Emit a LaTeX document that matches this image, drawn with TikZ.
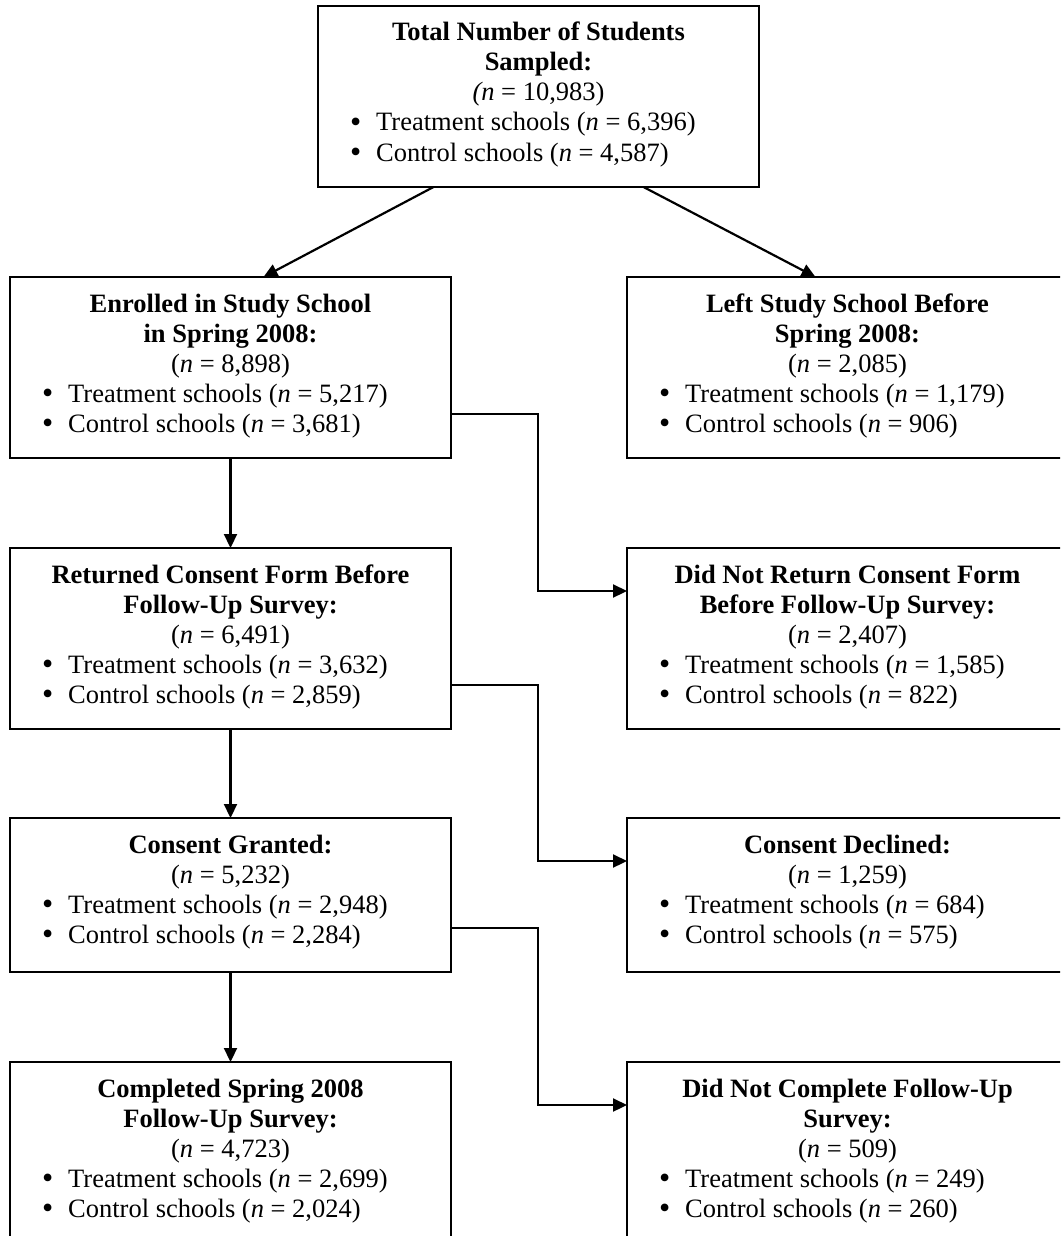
\documentclass[tikz,border=0pt]{standalone}
\usepackage{fontspec}
\setmainfont{Liberation Serif}
\usetikzlibrary{arrows.meta,calc}
\tikzset{
  fbox/.style={draw, line width=2.2pt, minimum width=441pt, minimum height=181pt, anchor=north west, inner sep=0pt, outer sep=0pt},
  txt/.style={anchor=base, inner sep=0pt, font=\fontsize{26.5}{30}\selectfont},
  ttl/.style={txt, font=\fontsize{26.5}{30}\selectfont\bfseries},
  lft/.style={txt, anchor=base west},
  arr/.style={line width=2.2pt, -{Triangle[length=14pt,width=13pt]}},
}
\newcommand\bul{\raisebox{-1.5pt}{\fontsize{32}{30}\selectfont •}}
\newcommand\fbtwo[9]{% name, left, top, title1, title2, total, treat, ctrl, nprefix
  \node[fbox] (#1) at (#2,#3) {};
  \node[ttl] (#1-a) at ($(#1.north)+(0,35)$) {#4};
  \node[ttl] (#1-b) at ($(#1.north)+(0,65)$) {#5};
  \node[txt] (#1-c) at ($(#1.north)+(0,95)$) {#9 = #6)};
  \node[lft] (#1-d0) at ($(#1.north west)+(32,125)$) {\bul};
  \node[lft] (#1-d) at ($(#1.north west)+(58,125)$) {Treatment schools (\textit{n} = #7)};
  \node[lft] (#1-e0) at ($(#1.north west)+(32,155)$) {\bul};
  \node[lft] (#1-e) at ($(#1.north west)+(58,155)$) {Control schools (\textit{n} = #8)};
}
\newcommand\fbone[7]{% name, left, top, title, total, treat, ctrl
  \node[fbox, minimum height=154pt] (#1) at (#2,#3) {};
  \node[ttl] (#1-a) at ($(#1.north)+(0,35)$) {#4};
  \node[txt] (#1-c) at ($(#1.north)+(0,65)$) {(\textit{n} = #5)};
  \node[lft] (#1-d0) at ($(#1.north west)+(32,95)$) {\bul};
  \node[lft] (#1-d) at ($(#1.north west)+(58,95)$) {Treatment schools (\textit{n} = #6)};
  \node[lft] (#1-e0) at ($(#1.north west)+(32,125)$) {\bul};
  \node[lft] (#1-e) at ($(#1.north west)+(58,125)$) {Control schools (\textit{n} = #7)};
}
\begin{document}
\begin{tikzpicture}[x=1pt,y=-1pt]
\useasboundingbox (0,0) rectangle (1060,1236);
\clip (0,0) rectangle (1060,1236);
\fill[white] (0,0) rectangle (1060,1236);

\fbtwo{top}{318}{6}{Total Number of Students}{Sampled:}{10,983}{6,396}{4,587}{\textit{(n}}
\fbtwo{enr}{10}{277}{Enrolled in Study School}{in Spring 2008:}{8,898}{5,217}{3,681}{(\textit{n}}
\fbtwo{left}{627}{277}{Left Study School Before}{Spring 2008:}{2,085}{1,179}{906}{(\textit{n}}
\fbtwo{ret}{10}{548}{Returned Consent Form Before}{Follow-Up Survey:}{6,491}{3,632}{2,859}{(\textit{n}}
\fbtwo{nret}{627}{548}{Did Not Return Consent Form}{Before Follow-Up Survey:}{2,407}{1,585}{822}{(\textit{n}}
\fbone{gr}{10}{818}{Consent Granted:}{5,232}{2,948}{2,284}
\fbone{dec}{627}{818}{Consent Declined:}{1,259}{684}{575}
\fbtwo{comp}{10}{1062}{Completed Spring 2008}{Follow-Up Survey:}{4,723}{2,699}{2,024}{(\textit{n}}
\fbtwo{ncomp}{627}{1062}{Did Not Complete Follow-Up}{Survey:}{509}{249}{260}{(\textit{n}}

% top splits
\draw[arr] ($(top.south)+(-105,0)$) -- ($(enr.north)+(33,0)$);
\draw[arr] ($(top.south)+(105,0)$) -- ($(left.north)+(-32,0)$);

% vertical arrows
\draw[arr] (enr.south) -- (ret.north);
\draw[arr] (ret.south) -- (gr.north);
\draw[arr] (gr.south) -- (comp.north);

% elbows
\coordinate (mid) at (538,0);
\coordinate (e1) at ($(enr.south east)+(0,-44)$);
\coordinate (t1) at ($(nret.north west)+(0,43)$);
\draw[arr] (e1) -- (e1 -| mid) |- (t1);
\coordinate (e2) at ($(ret.south east)+(0,-44)$);
\coordinate (t2) at ($(dec.north west)+(0,43)$);
\draw[arr] (e2) -- (e2 -| mid) |- (t2);
\coordinate (e3) at ($(gr.south east)+(0,-44)$);
\coordinate (t3) at ($(ncomp.north west)+(0,43)$);
\draw[arr] (e3) -- (e3 -| mid) |- (t3);
\end{tikzpicture}
\end{document}
